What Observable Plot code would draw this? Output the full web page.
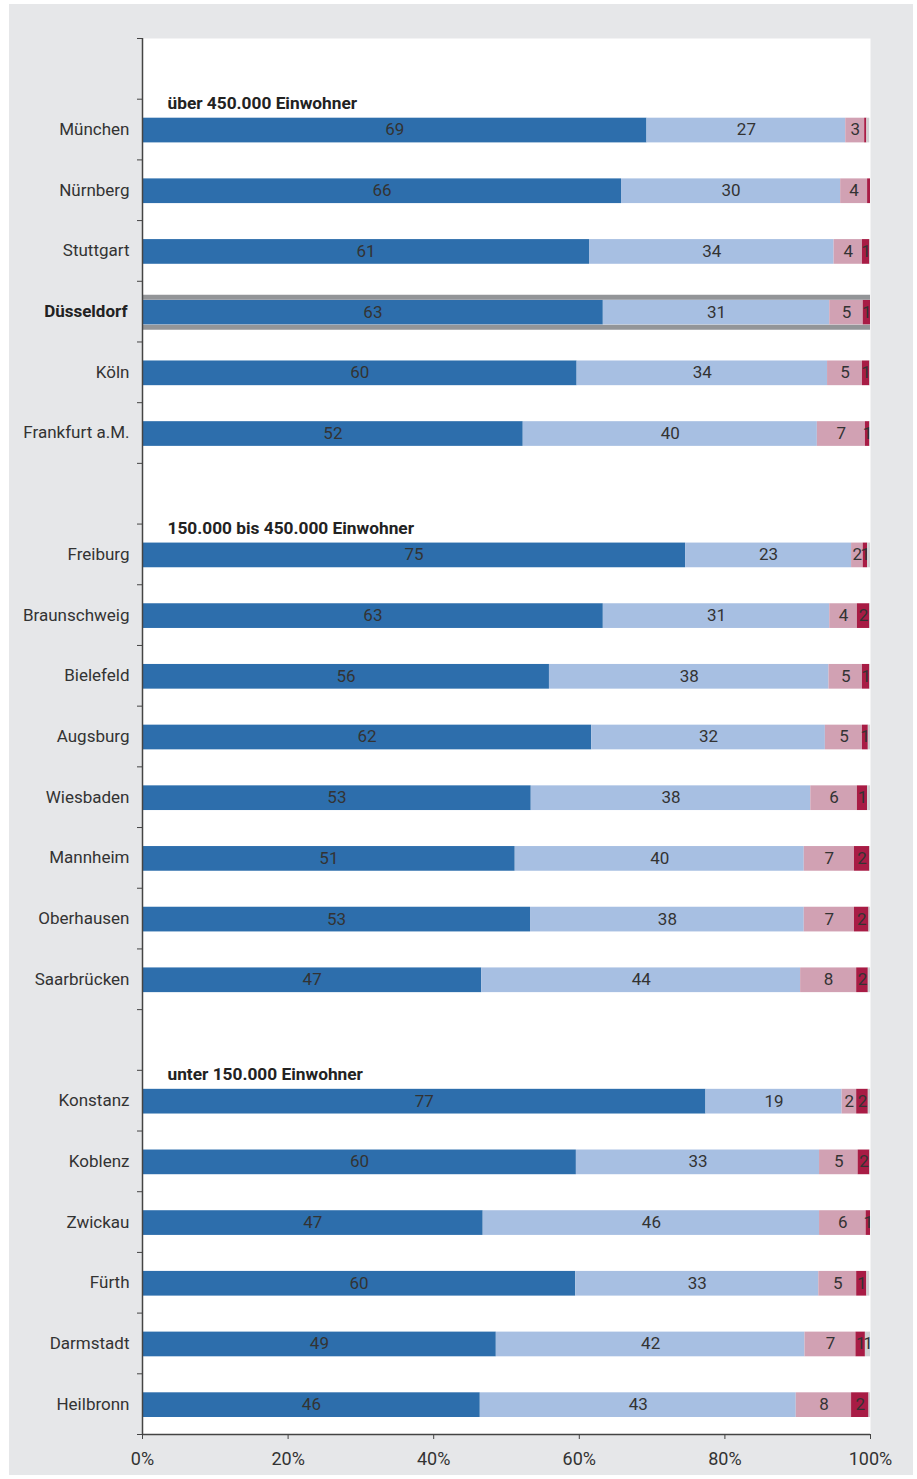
<!DOCTYPE html>
<html><head><meta charset="utf-8">
<script src="https://cdn.jsdelivr.net/npm/d3@7"></script>
<script src="https://cdn.jsdelivr.net/npm/@observablehq/plot@0.6"></script>
<style>
html,body{margin:0;padding:0;background:#fff;width:917px;height:1479px;overflow:hidden;}
#panel{position:absolute;left:9px;top:4px;width:904px;height:1471px;background:#e6e7e9;}
#chart{position:absolute;left:0;top:0;}
</style></head><body><div id="panel"></div><div id="chart"></div>
<script>
// Row layout (null = empty row)
const rows = [null,
  "München","Nürnberg","Stuttgart","Düsseldorf","Köln","Frankfurt a.M.",
  null,
  "Freiburg","Braunschweig","Bielefeld","Augsburg","Wiesbaden","Mannheim","Oberhausen","Saarbrücken",
  null,
  "Konstanz","Koblenz","Zwickau","Fürth","Darmstadt","Heilbronn"];
const cities = ["München","Nürnberg","Stuttgart","Düsseldorf","Köln","Frankfurt a.M.",
  "Freiburg","Braunschweig","Bielefeld","Augsburg","Wiesbaden","Mannheim","Oberhausen","Saarbrücken",
  "Konstanz","Koblenz","Zwickau","Fürth","Darmstadt","Heilbronn"];
const groupTitles = ["über 450.000 Einwohner","150.000 bis 450.000 Einwohner","unter 150.000 Einwohner"];
const groupFirst = ["München","Freiburg","Konstanz"];
const highlight = "Düsseldorf";

const seriesNames = ["A","B","C","D","E"];
const seriesColors = ["#2d6eac","#a7bfe2","#d1a1b3","#a81c45","#d0d1d3"];
const s1 = [69.3,65.8,61.4,63.3,59.7,52.3,74.6,63.3,55.9,61.7,53.4,51.2,53.3,46.6,77.4,59.6,46.8,59.5,48.6,46.4];
const s2 = [27.3,30.1,33.6,31.1,34.4,40.4,22.8,31.1,38.4,32.1,38.4,39.7,37.6,43.8,18.7,33.4,46.2,33.4,42.4,43.4];
const s3 = [2.6,3.7,3.9,4.6,4.8,6.6,1.6,3.8,4.6,5.1,6.4,6.9,6.9,7.7,2.0,5.3,6.4,5.2,7.0,7.6];
const s4 = [0.3,0.4,1.0,1.0,1.0,0.6,0.6,1.7,1.0,0.8,1.4,2.1,2.0,1.6,1.6,1.6,0.6,1.4,1.3,2.4];
const s5 = [0.4,0.0,0.1,0.0,0.1,0.1,0.4,0.1,0.1,0.3,0.4,0.1,0.2,0.3,0.3,0.1,0.0,0.4,0.7,0.2];
const xTicks = [0,20,40,60,80,100];

const series = [s1,s2,s3,s4,s5];
const segs = [];
cities.forEach((c,i)=>{
  let acc = 0;
  series.forEach((s,k)=>{
    segs.push({city:c,row:rows.indexOf(c),series:seriesNames[k],value:s[i],x1:acc,x2:acc+s[i]});
    acc += s[i];
  });
});
const cityRows = cities.map(c=>({city:c,row:rows.indexOf(c)}));
const groups = groupTitles.map((t,i)=>({title:t,row:rows.indexOf(groupFirst[i])}));
const hlRow = rows.indexOf(highlight);
const boundaries = d3.range(rows.length+1).map(i=>i-0.5);

const font = "Roboto, 'Liberation Sans', sans-serif";
const chart = Plot.plot({
  width: 917, height: 1479,
  marginLeft: 142, marginRight: 47, marginTop: 38, marginBottom: 45,
  style: {fontFamily: font, fontSize: "17px", color: "#333", background: "transparent"},
  x: {domain: [0,100]},
  y: {domain: [-0.5, rows.length-0.5], reverse: true},
  color: {domain: seriesNames, range: seriesColors},
  marks: [
    Plot.frame({fill: "white", stroke: "none"}),
    Plot.rect(segs, {x1:"x1", x2:"x2", y1: d=>d.row-0.5, y2: d=>d.row+0.5, insetTop:19, insetBottom:17, fill:"series"}),
    Plot.ruleY([hlRow], {x1:0, x2:100, dy:-14.5, stroke:"#939598", strokeWidth:5}),
    Plot.ruleY([hlRow], {x1:0, x2:100, dy:15.5, stroke:"#939598", strokeWidth:5}),
    Plot.text(segs.filter(d=>Math.round(d.value)>=1), {x: d=>(d.x1+d.x2)/2, y:"row", text: d=>String(Math.round(d.value)), dy:0.5, fill:"#333", fontSize:17, fontFamily:font}),
    Plot.text(cityRows.filter(d=>d.city!==highlight), {y:"row", text:"city", frameAnchor:"left", dx:-13, textAnchor:"end", fill:"#333", fontSize:17, fontFamily:font}),
    Plot.text(cityRows.filter(d=>d.city===highlight), {y:"row", text:"city", frameAnchor:"left", dx:-15, textAnchor:"end", fill:"#222", fontSize:17, fontWeight:"bold", fontFamily:font}),
    Plot.text(groups, {y:"row", text:"title", frameAnchor:"left", dx:25, dy:-26, textAnchor:"start", fill:"#222", fontSize:17.3, fontWeight:"bold", fontFamily:font}),
    Plot.axisY({ticks: boundaries, tickFormat: ()=>"", tickSize:5, stroke:"#444", label: null}),
    Plot.axisX({ticks: xTicks, tickFormat: d=>d+"%", tickSize:5, tickPadding:13, fontSize:18, fill:"#333", stroke:"#444", label: null}),
    Plot.ruleX([0], {stroke:"#444", strokeWidth:1.5}),
    Plot.ruleY([rows.length-0.5], {stroke:"#444", strokeWidth:1.5})
  ]
});
document.getElementById("chart").appendChild(chart);
</script></body></html>
